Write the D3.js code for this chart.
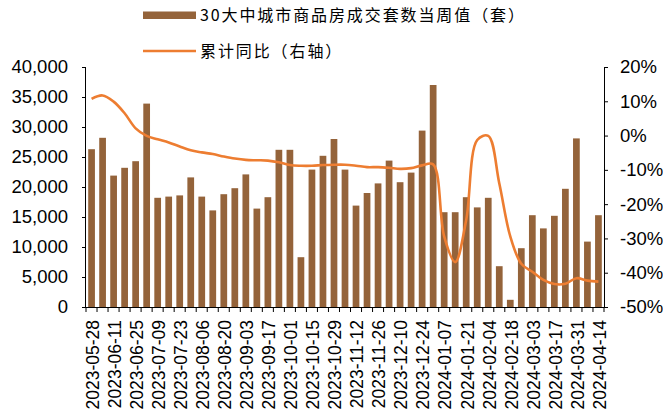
<!DOCTYPE html>
<html><head><meta charset="utf-8">
<script src="https://cdn.jsdelivr.net/npm/d3@7/dist/d3.min.js"></script>
<style>body{margin:0;background:#fff}svg{display:block}</style>
</head><body><svg id="c" width="663" height="418"></svg>
<script>
const dates = ["2023-05-28","2023-06-04","2023-06-11","2023-06-18","2023-06-25","2023-07-02","2023-07-09","2023-07-16","2023-07-23","2023-07-30","2023-08-06","2023-08-13","2023-08-20","2023-08-27","2023-09-03","2023-09-10","2023-09-17","2023-09-24","2023-10-01","2023-10-08","2023-10-15","2023-10-22","2023-10-29","2023-11-05","2023-11-12","2023-11-19","2023-11-26","2023-12-03","2023-12-10","2023-12-17","2023-12-24","2023-12-31","2024-01-07","2024-01-14","2024-01-21","2024-01-28","2024-02-04","2024-02-11","2024-02-18","2024-02-25","2024-03-03","2024-03-10","2024-03-17","2024-03-24","2024-03-31","2024-04-07","2024-04-14"];
const weeklySales = [26300,28200,21900,23200,24300,33900,18200,18400,18600,21600,18400,16100,18800,19800,22100,16400,18300,26200,26200,8300,22900,25200,28000,22900,16900,19000,20600,24400,20800,22400,29400,37000,15800,15800,18300,16600,18200,6800,1200,9800,15300,13100,15200,19700,28100,10900,15300];
const cumYoY = [10.7,11.7,9.9,6.5,2.1,-0.1,-1.1,-2.0,-3.2,-4.3,-4.9,-5.4,-6.1,-6.7,-7.1,-7.2,-7.3,-7.8,-8.6,-8.8,-8.8,-8.6,-8.5,-8.5,-8.8,-9.2,-9.2,-9.4,-9.7,-9.5,-8.7,-8.4,-29.4,-36.9,-24.6,-1.3,-0.1,-13.9,-29.4,-37.4,-39.7,-42.1,-43.3,-43.2,-41.6,-42.3,-42.6];
const leftTicks = [0,5000,10000,15000,20000,25000,30000,35000,40000];
const rightTicks = [-50,-40,-30,-20,-10,0,10,20];
const seriesNames = ["30大中城市商品房成交套数当周值（套）","累计同比（右轴）"];

const svg = d3.select("#c");
const L = 86, R = 604, T = 67, B = 307;
const barColor = "#94633A", lineColor = "#ED7D31";
const font = "'Liberation Sans', Arial, sans-serif";

const x = d3.scaleBand().domain(dates).range([L, R]).paddingInner(0.39).paddingOuter(0.2);
const yL = d3.scaleLinear().domain([0, 40000]).range([B, T]);
const yR = d3.scaleLinear().domain([-50, 20]).range([B, T]);

// bars
svg.append("g").selectAll("rect").data(weeklySales).join("rect")
  .attr("x", (d,i) => x(dates[i])).attr("width", x.bandwidth())
  .attr("y", d => yL(d)).attr("height", d => B - yL(d))
  .attr("fill", barColor);

// line
const line = d3.line().x((d,i) => x(dates[i]) + x.bandwidth()/2).y(d => yR(d)).curve(d3.curveCatmullRom.alpha(0.5));
svg.append("path").datum(cumYoY).attr("d", line).attr("fill","none").attr("stroke", lineColor).attr("stroke-width", 2.6);

// left axis
const gl = svg.append("g").attr("transform", `translate(${L},0)`)
  .call(d3.axisLeft(yL).tickValues(leftTicks).tickSize(4).tickPadding(14).tickFormat(d3.format(",")));
gl.select(".domain").attr("stroke","#000").attr("d", `M-0.5,${T}V${B}`);
gl.selectAll("text").attr("font-family", font).attr("font-size", 18.5).attr("fill","#000");

// right axis
const gr = svg.append("g").attr("transform", `translate(${R},0)`)
  .call(d3.axisRight(yR).tickValues(rightTicks).tickSize(4).tickPadding(12).tickFormat(d => d + "%"));
gr.select(".domain").attr("stroke","#000").attr("d", `M0.5,${T}V${B}`);
gr.selectAll("text").attr("font-family", font).attr("font-size", 18.5).attr("fill","#000");

// bottom axis
const step = x.step();
const gb = svg.append("g");
gb.append("line").attr("x1", L).attr("x2", R).attr("y1", B+0.5).attr("y2", B+0.5).attr("stroke","#000");
const bounds = d3.range(dates.length + 1).map(i => L + (R - L) * i / dates.length);
gb.selectAll("line.t").data(bounds).join("line").attr("class","t")
  .attr("x1", d => d).attr("x2", d => d).attr("y1", B).attr("y2", B + 5).attr("stroke","#000");
gb.selectAll("text").data(dates.filter((d,i) => i % 2 === 0)).join("text")
  .attr("transform", d => `translate(${x(d) + x.bandwidth()/2 + 1},${B + 13}) rotate(-90)`)
  .attr("text-anchor","end").attr("dy","0.36em")
  .attr("font-family", font).attr("font-size", 17.5).attr("fill","#000")
  .text(d => d);

// legend
const lg = svg.append("g");
lg.append("rect").attr("x",143).attr("y",11.5).attr("width",53).attr("height",7.5).attr("fill",barColor);
lg.append("text").attr("x",200).attr("y",15).attr("dy","0.35em")
  .attr("font-family","'Noto Sans CJK SC', sans-serif").attr("font-size",16).attr("letter-spacing",1.9)
  .attr("fill","#000").text(seriesNames[0]);
lg.append("line").attr("x1",143).attr("x2",196).attr("y1",51).attr("y2",51).attr("stroke",lineColor).attr("stroke-width",2.6);
lg.append("text").attr("x",200).attr("y",51).attr("dy","0.35em")
  .attr("font-family","'Noto Sans CJK SC', sans-serif").attr("font-size",16).attr("letter-spacing",1.9)
  .attr("fill","#000").text(seriesNames[1]);
</script></body></html>
